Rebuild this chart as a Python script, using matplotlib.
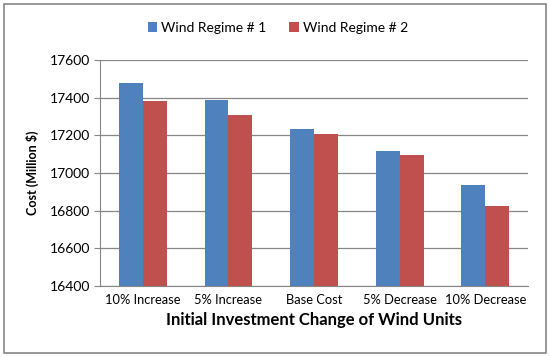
import matplotlib
matplotlib.use("Agg")
import matplotlib.pyplot as plt
import numpy as np
from matplotlib.patches import Rectangle

categories = ["10% Increase", "5% Increase", "Base Cost", "5% Decrease", "10% Decrease"]
regime1 = [17480, 17390, 17235, 17118, 16937]
regime2 = [17380, 17310, 17207, 17098, 16822]
series_names = ["Wind Regime # 1", "Wind Regime # 2"]
yticks = [16400, 16600, 16800, 17000, 17200, 17400, 17600]

plt.rcParams['font.family'] = ['Lato', 'DejaVu Sans']

fig = plt.figure(figsize=(5.5, 3.57), dpi=100)
ax = fig.add_axes([0.182, 0.199, 0.778, 0.633])

x = np.arange(len(categories))
w = 0.28
ax.bar(x - w/2, np.array(regime1) - 16400, w, bottom=16400, color="#4F81BD", label=series_names[0], zorder=3)
ax.bar(x + w/2, np.array(regime2) - 16400, w, bottom=16400, color="#C0504D", label=series_names[1], zorder=3)

ax.set_ylim(16400, 17600)
ax.set_xlim(-0.5, len(categories) - 0.5)
ax.set_yticks(yticks)
ax.set_yticklabels([str(v) for v in yticks], fontsize=10)
ax.set_xticks(x)
ax.set_xticklabels(categories, fontsize=9.3)
ax.tick_params(axis='x', length=0, pad=6)
ax.tick_params(axis='y', length=4, color="#868686", pad=3)
ax.grid(axis='y', color="#868686", linewidth=0.9, zorder=0)
for s in ['top', 'right']:
    ax.spines[s].set_visible(False)
ax.spines['left'].set_color("#868686")
ax.spines['bottom'].set_color("#868686")

ax.set_ylabel("Cost (Million $)", fontsize=9, fontweight='bold', labelpad=8)
ax.set_xlabel("Initial Investment Change of Wind Units", fontsize=12, fontweight='bold', labelpad=4)

h, l = ax.get_legend_handles_labels()
fig.legend(h, l, loc='center', bbox_to_anchor=(0.505, 0.922), ncol=2, frameon=False,
           fontsize=10, handlelength=0.7, handleheight=0.7, handletextpad=0.3, columnspacing=1.6)

fig.patches.append(Rectangle((0.008, 0.012), 0.984, 0.976, transform=fig.transFigure,
                             fill=False, edgecolor="#868686", linewidth=1.2))

fig.savefig("out.png", dpi=100)
